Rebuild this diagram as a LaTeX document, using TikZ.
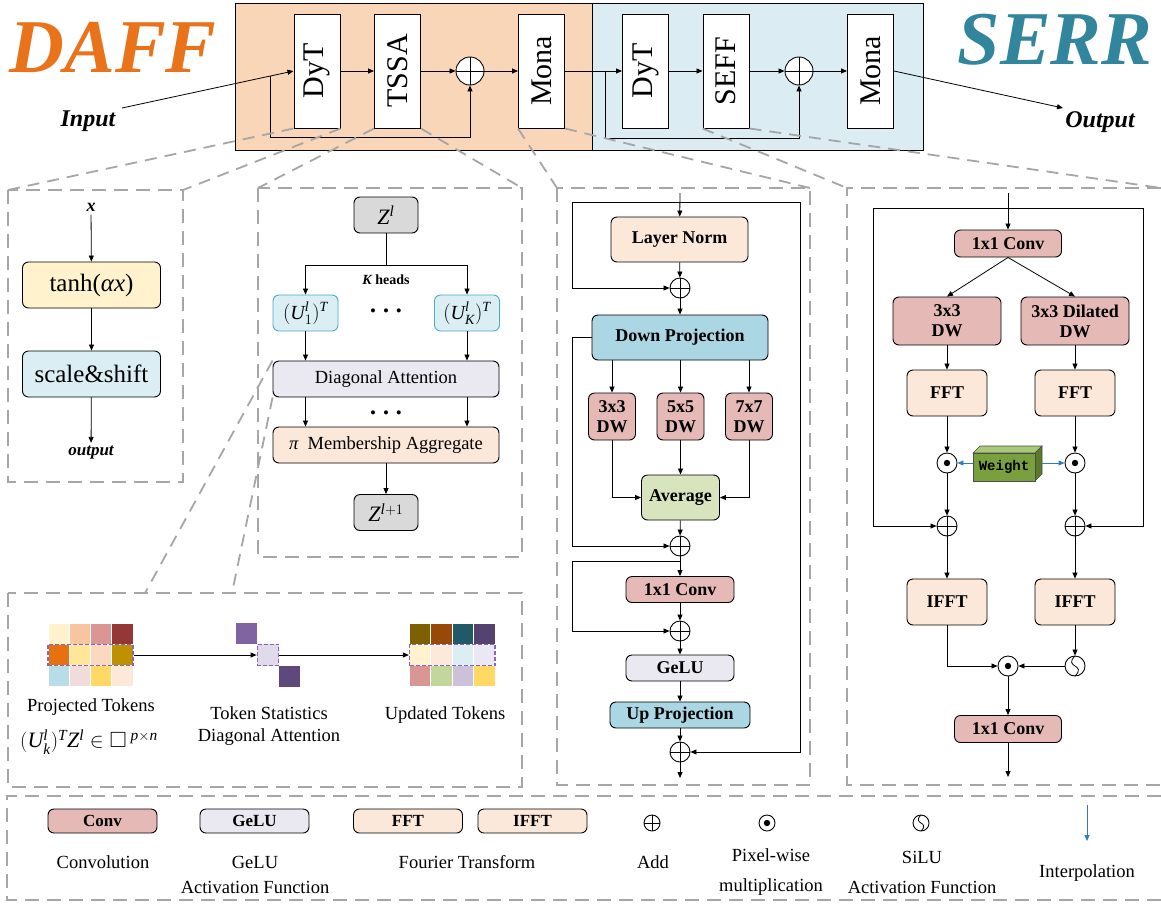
\documentclass[tikz,border=0pt]{standalone}
\usepackage{graphicx}
\usepackage{amssymb}
\usepackage{fontspec}
\setmainfont{Liberation Serif}
\newfontfamily\wmono{Liberation Mono}
\usetikzlibrary{arrows.meta,calc}
\definecolor{daffc}{HTML}{E8731A}
\definecolor{serrc}{HTML}{31859C}
\definecolor{topor}{HTML}{F9D6B8}
\definecolor{topbl}{HTML}{DBECF2}
\definecolor{dashg}{HTML}{A6A6A6}
\definecolor{peach}{HTML}{FCE8D9}
\definecolor{dpblue}{HTML}{ABD7E5}
\definecolor{convc}{HTML}{E5B9B6}
\definecolor{avgc}{HTML}{D7E4BD}
\definecolor{gelu}{HTML}{EAE8F1}
\definecolor{tanhc}{HTML}{FFF2CC}
\definecolor{scalec}{HTML}{DAEEF3}
\definecolor{zgray}{HTML}{D9D9D9}
\definecolor{uborder}{HTML}{4BACC6}
\definecolor{wgreen}{HTML}{79A03C}
\definecolor{wgtop}{HTML}{A9C97A}
\definecolor{wgside}{HTML}{5A7A2A}
\definecolor{arrblue}{HTML}{2E7BC4}
\definecolor{tokp}{HTML}{8A64B8}
\newcommand\fz[2]{\fontsize{#1}{#2}\selectfont}
\newcommand\mi[1]{\mathit{#1}}
\begin{document}
\begin{tikzpicture}[x=1pt,y=-1pt,
  arr/.style={-{Triangle[length=6pt,width=5pt]}, line width=0.8pt},
  barr/.style={-{Triangle[length=6pt,width=5pt]}, draw=arrblue, line width=1pt},
  topblk/.style={draw, fill=white, line width=1pt, minimum width=46pt, minimum height=114pt, inner sep=0pt, font=\fz{30}{32}},
  rb/.style={draw, rounded corners=6pt, line width=0.9pt, inner sep=0pt, align=center},
  bt/.style={font=\fz{18}{20}\bfseries},
  wh/.style 2 args={minimum width=#1, minimum height=#2},
  title/.style={font=\fz{76}{80}\bfseries\itshape, inner sep=0pt},
  panel/.style={draw=dashg, line width=1.8pt, dash pattern=on 14pt off 8pt},
  gline/.style={draw=dashg, line width=1.8pt, dash pattern=on 12pt off 8pt},
  addc/.style={circle, draw, fill=white, inner sep=0pt, line width=0.9pt, minimum size=#1,
    path picture={\draw[black, line width=0.9pt] (path picture bounding box.north) -- (path picture bounding box.south) (path picture bounding box.west) -- (path picture bounding box.east);}},
  addc/.default=20pt,
  mulc/.style={circle, draw, fill=white, inner sep=0pt, line width=0.9pt, minimum size=#1,
    path picture={\fill[black] (path picture bounding box.center) circle[radius=3.2pt];}},
  mulc/.default=20pt,
  silu/.style={circle, draw, fill=white, inner sep=0pt, line width=0.9pt, minimum size=#1,
    path picture={\draw[black, line width=0.8pt] (path picture bounding box.north) .. controls ($(path picture bounding box.center)+(-0.6*#1,-0.1*#1)$) and ($(path picture bounding box.center)+(0.6*#1,0.1*#1)$) .. (path picture bounding box.south);}},
  silu/.default=20pt,
  lbl/.style={font=\fz{18.5}{20}, inner sep=0pt, align=center},
  tokd/.style={draw=tokp, line width=1.3pt, dash pattern=on 4pt off 2pt, inner sep=0pt}
]
\useasboundingbox (0,0) rectangle (1161,905);
\fill[white] (0,0) rectangle (1161,905);

% ---------------- top strip ----------------
\fill[topor] (235,3) rectangle (592,150);
\fill[topbl] (592,3) rectangle (923,150);
\draw[line width=1pt] (235,3) rectangle (923,150) (592,3) -- (592,150);

\node[title, text=daffc] (daff) at (113,47) {DAFF};
\node[title, text=serrc] (serr) at (1055,40) {SERR};
\node[font=\fz{24}{26}\bfseries\itshape] (inl) at (88,121) {Input};
\node[font=\fz{24}{26}\bfseries\itshape] (outl) at (1100,122) {Output};

\node[topblk] (dyt1) at (317,71) {\rotatebox{90}{DyT}};
\node[topblk] (tssa) at (397.5,71) {\rotatebox{90}{TSSA}};
\node[addc=28pt] (add1) at (470,71) {};
\node[topblk] (mona1) at (541.5,71) {\rotatebox{90}{Mona}};
\node[topblk] (dyt2) at (645.5,71) {\rotatebox{90}{DyT}};
\node[topblk] (seff) at (726,71) {\rotatebox{90}{SEFF}};
\node[addc=28pt] (add2) at (799,71) {};
\node[topblk] (mona2) at (870.5,71) {\rotatebox{90}{Mona}};

\coordinate (inp) at (122,108);
\coordinate (outp) at (1063,108);
\coordinate (j1) at ($(inp)!0.864!(dyt1.west)$);
\coordinate (j2) at (605,71);
\draw[arr] (inp) -- (dyt1.west);
\draw[arr] (dyt1) -- (tssa);
\draw[arr] (tssa) -- (add1);
\draw[arr] (add1) -- (mona1);
\draw[arr] (mona1) -- (dyt2);
\draw[arr] (dyt2) -- (seff);
\draw[arr] (seff) -- (add2);
\draw[arr] (add2) -- (mona2);
\draw[arr] (mona2.east) -- (outp);
\draw[arr] (j1) -- ++(0,61) -| (add1.south);
\draw[arr] (j2) -- ++(0,67) -| (add2.south);

% ---------------- panels ----------------
\coordinate (p1tl) at (8,190);   \coordinate (p1tr) at (183,190);  \coordinate (p1br) at (183,482);
\coordinate (p2tl) at (258,188); \coordinate (p2tr) at (522,188);  \coordinate (p2br) at (522,557);
\coordinate (p3tl) at (557,188); \coordinate (p3tr) at (810,188);  \coordinate (p3br) at (810,785);
\coordinate (p4tl) at (847,188); \coordinate (p4tr) at (1161,188);
\coordinate (p5tl) at (8,593);   \coordinate (p5br) at (522,787);
\coordinate (p5a) at (145,593);  \coordinate (p5b) at (232,593);

\draw[panel] (p1tl) rectangle (p1br);
\draw[panel] (p2tl) rectangle (p2br);
\draw[panel] (p3tl) rectangle (p3br);
\draw[panel] (p4tr) -- (p4tl) -- (847,785) -- (1161,785);
\draw[panel] (p5tl) rectangle (p5br);
\draw[panel] (1161,796) -- (7,796) -- (7,900) -- (1161,900);

\draw[gline] (dyt1.south west) -- (p1tl);
\draw[gline] (dyt1.south east) -- (p1tr);
\draw[gline] (tssa.south west) -- (p2tl);
\draw[gline] (tssa.south east) -- (p2tr);
\draw[gline] (mona1.south west) -- (p3tl);
\draw[gline] (mona1.south east) -- (p3tr);
\draw[gline] (seff.south west) -- (p4tl);
\draw[gline] (seff.south east) -- (p4tr);

% ---------------- DyT panel ----------------
\node[font=\fz{18}{18}\bfseries\itshape] (xin) at (91,207) {x};
\node[rb, fill=tanhc, wh={138pt}{46pt}, font=\fz{25}{27}] (tanh) at (91.5,285) {tanh({\itshape αx})};
\node[rb, fill=scalec, wh={138pt}{46pt}, font=\fz{25}{27}] (scs) at (91.5,374) {scale\&shift};
\node[font=\fz{17}{18}\bfseries\itshape] (xout) at (91,453) {output};
\draw[arr] (xin) -- (tanh);
\draw[arr] (tanh) -- (scs);
\draw[arr] (scs) -- (xout);

% ---------------- TSSA panel ----------------
\node[rb, fill=zgray, wh={64pt}{36pt}, font=\fz{22}{24}] (z0) at (386,215) {$\mi{Z}^{\mi{l}}$};
\coordinate (kb) at (386,265);
\node[rb, draw=uborder, fill=scalec, wh={65pt}{36pt}, font=\fz{20}{22}] (u1) at (305.5,313) {$(\mi{U}_1^{\mi{l}})^{\mi{T}}$};
\node[rb, draw=uborder, fill=scalec, wh={65pt}{36pt}, font=\fz{20}{22}] (uk) at (467,313) {$(\mi{U}_{\mi{K}}^{\mi{l}})^{\mi{T}}$};
\node[font=\fz{14}{16}\bfseries] (kh) at (386,280) {{\itshape K} heads};
\node[font=\fz{17}{17}] (dt1) at (386,313) {\textbullet\hspace{7pt}\textbullet\hspace{7pt}\textbullet};
\node[rb, fill=gelu, wh={226pt}{36pt}, font=\fz{18.5}{20}] (da) at (386,379) {Diagonal Attention};
\node[font=\fz{17}{17}] (dt2) at (386,415) {\textbullet\hspace{7pt}\textbullet\hspace{7pt}\textbullet};
\node[rb, fill=peach, wh={226pt}{36pt}, font=\fz{18.5}{20}] (mag) at (386,445) {{\itshape π}\hspace{0.5em}Membership Aggregate};
\node[rb, fill=zgray, wh={64pt}{36pt}, font=\fz{22}{24}] (z1) at (386,512.5) {$\mi{Z}^{\mi{l}+1}$};
\draw[line width=0.8pt] (z0) -- (kb);
\draw[arr] (kb) -| (u1);
\draw[arr] (kb) -| (uk);
\draw[arr] (u1) -- (u1 |- da.north);
\draw[arr] (uk) -- (uk |- da.north);
\draw[arr] (da.south -| u1) -- (mag.north -| u1);
\draw[arr] (da.south -| uk) -- (mag.north -| uk);
\draw[arr] (mag) -- (z1);
\draw[gline] (da.north west) -- (p5a);
\draw[gline] (da.south west) -- (p5b);

% ---------------- Mona panel ----------------
\node[rb, fill=peach, wh={137pt}{45pt}, bt] (ln) at (679.5,239.5) {Layer Norm};
\node[addc] (ma1) at (680,288) {};
\node[rb, fill=dpblue, wh={176pt}{45pt}, bt] (dp) at (680,337.5) {Down Projection};
\node[rb, fill=convc, wh={47pt}{47pt}, bt] (dw1) at (612,416.5) {3x3\\DW};
\node[rb, fill=convc, wh={47pt}{47pt}, bt] (dw2) at (680.5,416.5) {5x5\\DW};
\node[rb, fill=convc, wh={47pt}{47pt}, bt] (dw3) at (749,416.5) {7x7\\DW};
\node[rb, fill=avgc, wh={78pt}{45pt}, bt] (avg) at (680.5,497.5) {Average};
\node[addc] (ma2) at (680,546) {};
\node[rb, fill=convc, wh={108pt}{26pt}, bt] (cv1) at (680,589.5) {1x1 Conv};
\node[addc] (ma3) at (680,631) {};
\node[rb, fill=gelu, wh={108pt}{26pt}, bt] (gl) at (680,668) {GeLU};
\node[rb, fill=dpblue, wh={140pt}{26pt}, bt] (up) at (680,715) {Up Projection};
\node[addc] (ma4) at (680,752) {};
\coordinate (mi) at (680,193);
\coordinate (mt) at (680,202);
\coordinate (mo) at (680,778);
\coordinate (b3) at (680,561);
\draw[arr] (mi) -- (ln);
\draw[arr] (mt) -| ($(ma1.west)+(-97,0)$) -- (ma1.west);
\draw[arr] (mt) -| ($(ma4.east)+(110,0)$) -- (ma4.east);
\draw[arr] (ln) -- (ma1);
\draw[arr] (ma1) -- (dp);
\draw[arr] (dp.south -| dw1) -- (dw1);
\draw[arr] (dp.south -| dw2) -- (dw2);
\draw[arr] (dp.south -| dw3) -- (dw3);
\draw[arr] (dw1.south) |- (avg.west);
\draw[arr] (dw2) -- (avg);
\draw[arr] (dw3.south) |- (avg.east);
\draw[arr] (dp.west) -| ($(ma2.west)+(-97,0)$) -- (ma2.west);
\draw[arr] (avg) -- (ma2);
\draw[arr] (ma2) -- (cv1);
\draw[arr] (b3) -| ($(ma3.west)+(-97,0)$) -- (ma3.west);
\draw[arr] (cv1) -- (ma3);
\draw[arr] (ma3) -- (gl);
\draw[arr] (gl) -- (up);
\draw[arr] (up) -- (ma4);
\draw[arr] (ma4) -- (mo);

% ---------------- SEFF panel ----------------
\node[rb, fill=convc, wh={107pt}{27pt}, bt] (c1) at (1008,243.5) {1x1 Conv};
\node[rb, fill=convc, wh={108pt}{48pt}, bt] (s3) at (947,321) {3x3\\DW};
\node[rb, fill=convc, wh={108pt}{48pt}, bt] (sd) at (1075,321) {3x3 Dilated\\DW};
\node[rb, fill=peach, wh={80pt}{46pt}, bt] (f1) at (947,393) {FFT};
\node[rb, fill=peach, wh={80pt}{46pt}, bt] (f2) at (1075,393) {FFT};
\node[mulc] (m1) at (947,463) {};
\node[mulc] (m2) at (1075,463) {};
\fill[wgtop, draw=black!70, line width=0.6pt] (973,453) -- (980,446) -- (1042,446) -- (1035,453) -- cycle;
\fill[wgside, draw=black!70, line width=0.6pt] (1035,453) -- (1042,446) -- (1042,474) -- (1035,481) -- cycle;
\node[draw=black!70, line width=0.6pt, fill=wgreen, wh={62pt}{28pt}, inner sep=0pt, font=\wmono\bfseries\fz{14}{16}] (wt) at (1004,467) {Weight};
\node[addc] (s1) at (947,526) {};
\node[addc] (s2) at (1075,526) {};
\node[rb, fill=peach, wh={80pt}{46pt}, bt] (i1) at (947,602) {IFFT};
\node[rb, fill=peach, wh={80pt}{46pt}, bt] (i2) at (1075,602) {IFFT};
\node[silu] (sl) at (1075,666) {};
\node[mulc] (m3) at (1008,666) {};
\node[rb, fill=convc, wh={107pt}{27pt}, bt] (c2) at (1008,729) {1x1 Conv};
\coordinate (si) at (1008,193);
\coordinate (st) at (1008,208);
\coordinate (so) at (1008,777);
\draw[arr] (si) -- (c1);
\draw[arr] (st) -| ($(s1.west)+(-63,0)$) -- (s1.west);
\draw[arr] (st) -| ($(s2.east)+(58,0)$) -- (s2.east);
\draw[arr] (c1.south) -- (s3.north);
\draw[arr] (c1.south) -- (sd.north);
\draw[arr] (s3) -- (f1);
\draw[arr] (sd) -- (f2);
\draw[arr] (f1) -- (m1);
\draw[arr] (f2) -- (m2);
\draw[barr] (wt.west |- m1) -- (m1.east);
\draw[barr] ($(wt.east |- m2)+(7,0)$) -- (m2.west);
\draw[arr] (m1) -- (s1);
\draw[arr] (m2) -- (s2);
\draw[arr] (s1) -- (i1);
\draw[arr] (s2) -- (i2);
\draw[arr] (i1.south) |- (m3.west);
\draw[arr] (i2) -- (sl);
\draw[arr] (sl) -- (m3);
\draw[arr] (m3) -- (c2);
\draw[arr] (c2) -- (so);

% ---------------- token panel ----------------
\foreach \c [count=\i from 0] in {FFF2CC,F7C59F,D99694,953735} {\definecolor{tmp}{HTML}{\c}\fill[tmp, draw=white, line width=1pt] (48+21.25*\i,623) rectangle ++(21.25,21.3);}
\foreach \c [count=\i from 0] in {E8710F,FFE699,FAD9BE,BF9000} {\definecolor{tmp}{HTML}{\c}\fill[tmp, draw=white, line width=1pt] (48+21.25*\i,644.3) rectangle ++(21.25,21.3);}
\foreach \c [count=\i from 0] in {B7DEE8,F2DCDB,FFD966,FDE9D9} {\definecolor{tmp}{HTML}{\c}\fill[tmp, draw=white, line width=1pt] (48+21.25*\i,665.6) rectangle ++(21.25,21.3);}
\foreach \c [count=\i from 0] in {7F6000,984807,215968,55436F} {\definecolor{tmp}{HTML}{\c}\fill[tmp, draw=white, line width=1pt] (409.5+21.4*\i,623) rectangle ++(21.4,21.3);}
\foreach \c [count=\i from 0] in {FFF2CC,FDE9D9,DBEEF3,EAE8F2} {\definecolor{tmp}{HTML}{\c}\fill[tmp, draw=white, line width=1pt] (409.5+21.4*\i,644.3) rectangle ++(21.4,21.3);}
\foreach \c [count=\i from 0] in {D99694,C3D69B,CCC0DA,FFD966} {\definecolor{tmp}{HTML}{\c}\fill[tmp, draw=white, line width=1pt] (409.5+21.4*\i,665.6) rectangle ++(21.4,21.3);}
\definecolor{tmp}{HTML}{8064A2}\fill[tmp] (236,623) rectangle (257,644);
\definecolor{tmp}{HTML}{5F497A}\fill[tmp] (279,666) rectangle (300,687);
\definecolor{tmp}{HTML}{E0DAEA}
\node[tokd, fill=tmp, wh={21.5pt}{21.5pt}] (g2) at (268,655) {};
\node[tokd, wh={85pt}{21.3pt}] (g1) at (90.5,655) {};
\node[tokd, wh={85.6pt}{21.3pt}] (g3) at (452.3,655) {};
\draw[arr] (g1.east) -- (g2.west);
\draw[arr] (g2.east) -- (g3.west);
\node[lbl] (pt) at (91,707) {Projected Tokens};
\node[lbl, font=\fz{22}{24}] (ptm) at (89,742) {$(\mi{U}_{\mi{k}}^{\mi{l}})^{\mi{T}}\mi{Z}^{\mi{l}}\in\square^{\;\mi{p}\times\mi{n}}$};
\node[lbl, font=\fz{18.5}{22}] (tsd) at (269,726) {Token Statistics\\Diagonal Attention};
\node[lbl] (ut) at (445,715) {Updated Tokens};

% ---------------- legend ----------------
\node[rb, fill=convc, wh={109pt}{24pt}, font=\fz{17}{18}\bfseries] (lconv) at (102.5,821) {Conv};
\node[rb, fill=gelu, wh={109pt}{24pt}, font=\fz{17}{18}\bfseries] (lgelu) at (254.5,821) {GeLU};
\node[rb, fill=peach, wh={109pt}{24pt}, font=\fz{17}{18}\bfseries] (lfft) at (408,821) {FFT};
\node[rb, fill=peach, wh={109pt}{24pt}, font=\fz{17}{18}\bfseries] (lifft) at (532.5,821) {IFFT};
\node[addc=16pt] (ladd) at (652,823) {};
\node[mulc=16pt] (lmul) at (767,823) {};
\node[silu=16pt] (lsilu) at (921,823) {};
\coordinate (lia) at (1087,805);
\coordinate (lib) at (1087,841);
\draw[barr] (lia) -- (lib);
\node[lbl] (t1) at (103,862) {Convolution};
\node[lbl, font=\fz{18.5}{25}] (t2) at (255,874.5) {GeLU\\Activation Function};
\node[lbl] (t3) at (467,862) {Fourier Transform};
\node[lbl] (t4) at (653,862) {Add};
\node[lbl, font=\fz{18.5}{30}] (t5) at (771,872) {Pixel-wise\\multiplication};
\node[lbl, font=\fz{18.5}{30}] (t6) at (922,872) {SiLU\\Activation Function};
\node[lbl] (t7) at (1087,873) {Interpolation};
\end{tikzpicture}
\end{document}
